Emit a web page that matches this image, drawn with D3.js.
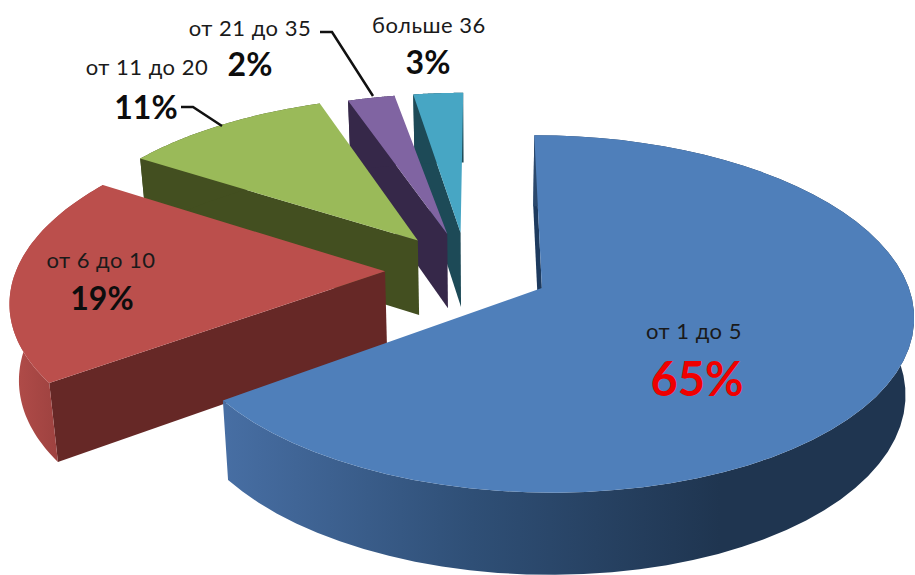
<!DOCTYPE html>
<html>
<head>
<meta charset="utf-8">
<script src="https://cdn.jsdelivr.net/npm/d3@7"></script>
<style>
  body { margin: 0; background: #fff; overflow: hidden; }
  text { font-family: Lato, "Open Sans", sans-serif; text-anchor: middle; }
</style>
</head>
<body>
<script>
const categories = ['от 1 до 5', 'от 6 до 10', 'от 11 до 20', 'от 21 до 35', 'больше 36']
const values = [65, 19, 10.6, 2.45, 2.95]
const percentLabels = ['65%', '19%', '11%', '2%', '3%']
const topColors = ['#4f7fba', '#bb4f4c', '#9aba59', '#8064a2', '#47a6c4']
const wallColors = ['#1d3a5e', '#662826', '#434f20', '#362849', '#1d4a57']

// every slice is pulled out of the pie by the same amount
const explode = 0.228
const width = 915, height = 575

// tilted disc with some perspective, front is bigger than back
const perspective = 0.145
const centre = {u: -0.04, v: -0.1035}
const x = d3.scaleLinear().domain([-1, 1]).range([482 - 367, 482 + 367])
const y = d3.scaleLinear().domain([-1, 1]).range([288 - 175, 288 + 175])
const depth = 76

// the picture is not a clean projection: the left slices reach a bit further,
// and there is a wider gap in front of the last one
const reach = [1, 1.02, 1.02, 1, 1]
const startTrim = [0, 0, 0, 0, 0.0226]

const project = (u, v, lower) => {
  const d = 1 - perspective * v
  const px = x(u / d), py = y(v / d)
  if (!lower) return [px, py]
  return [x(0) + (px - x(0)) * 0.98, py + depth / Math.sqrt(d)]
}

const svg = d3.select('body').append('svg')
  .attr('width', width)
  .attr('height', height)
  .attr('viewBox', `0 0 ${width} ${height}`)
  .style('display', 'block')

const defs = svg.append('defs')
const blueWall = defs.append('linearGradient')
  .attr('id', 'blue-wall').attr('gradientUnits', 'userSpaceOnUse')
  .attr('x1', 225).attr('x2', 720).attr('y1', 0).attr('y2', 0)
blueWall.append('stop').attr('offset', 0).attr('stop-color', '#476ea3')
blueWall.append('stop').attr('offset', 0.5).attr('stop-color', '#2f4f76')
blueWall.append('stop').attr('offset', 1).attr('stop-color', '#1f3550')
const redWall = defs.append('linearGradient')
  .attr('id', 'red-wall').attr('gradientUnits', 'userSpaceOnUse')
  .attr('x1', 10).attr('x2', 70).attr('y1', 0).attr('y2', 0)
redWall.append('stop').attr('offset', 0).attr('stop-color', '#b34d4a')
redWall.append('stop').attr('offset', 1).attr('stop-color', '#983f3d')

const outerFills = ['url(#blue-wall)', 'url(#red-wall)', wallColors[2], wallColors[3], wallColors[4]]

const slices = d3.pie().sort(null).value(d => d)(values)
const line = d3.line()

// back slices first, the front ones overlap them
const drawOrder = [4, 3, 2, 1, 0]
drawOrder.forEach(i => {
  const s = slices[i]
  const mid = (s.startAngle + s.endAngle) / 2
  const apexU = centre.u + explode * Math.sin(mid)
  const apexV = centre.v - explode * Math.cos(mid)
  const a0 = s.startAngle + startTrim[i]
  const angles = d3.range(0, 61).map(k => a0 + (s.endAngle - a0) * k / 60)
  const rim = lower => angles.map(a => project(apexU + reach[i] * Math.sin(a), apexV - reach[i] * Math.cos(a), lower))

  const g = svg.append('g').attr('class', 'slice')
  // only the wall at the start angle can be seen in this view
  const startRimTop = rim(false)[0], startRimLow = rim(true)[0]
  g.append('path')
    .attr('d', line([project(apexU, apexV), startRimTop, startRimLow, project(apexU, apexV, true)]) + 'Z')
    .attr('fill', wallColors[i])
  g.append('path')
    .attr('d', line(rim(false).concat(rim(true).reverse())) + 'Z')
    .attr('fill', outerFills[i])
  g.append('path')
    .attr('d', line([project(apexU, apexV)].concat(rim(false))) + 'Z')
    .attr('fill', topColors[i])
})

// labels
const namePos = [[694, 331], [101, 260], [147, 67], [250, 28], [429, 25]]
const pctPos = [[697, 380], [102, 299], [146, 108], [250, 65], [428, 63]]
const pctSize = [47, 32, 32, 32, 32]
const nameSize = 22

categories.forEach((c, i) => {
  svg.append('text')
    .attr('x', namePos[i][0]).attr('y', namePos[i][1])
    .attr('dy', '0.35em')
    .attr('font-size', nameSize)
    .attr('letter-spacing', 0.5)
    .attr('fill', '#1a1a1a')
    .text(c)
  svg.append('text')
    .attr('x', pctPos[i][0]).attr('y', pctPos[i][1])
    .attr('dy', '0.35em')
    .attr('font-size', pctSize[i])
    .attr('font-weight', 700)
    .attr('fill', i === 0 ? '#f00000' : '#0d0d0d')
    .text(percentLabels[i])
})

// leader lines for the two labels that sit away from their slices
const leaders = [[[181, 107], [193, 107], [222, 126]], [[320, 32], [332, 32], [373, 96]]]
leaders.forEach(l => {
  svg.append('path')
    .attr('d', line(l))
    .attr('fill', 'none')
    .attr('stroke', '#111')
    .attr('stroke-width', 2.5)
})
</script>
</body>
</html>
